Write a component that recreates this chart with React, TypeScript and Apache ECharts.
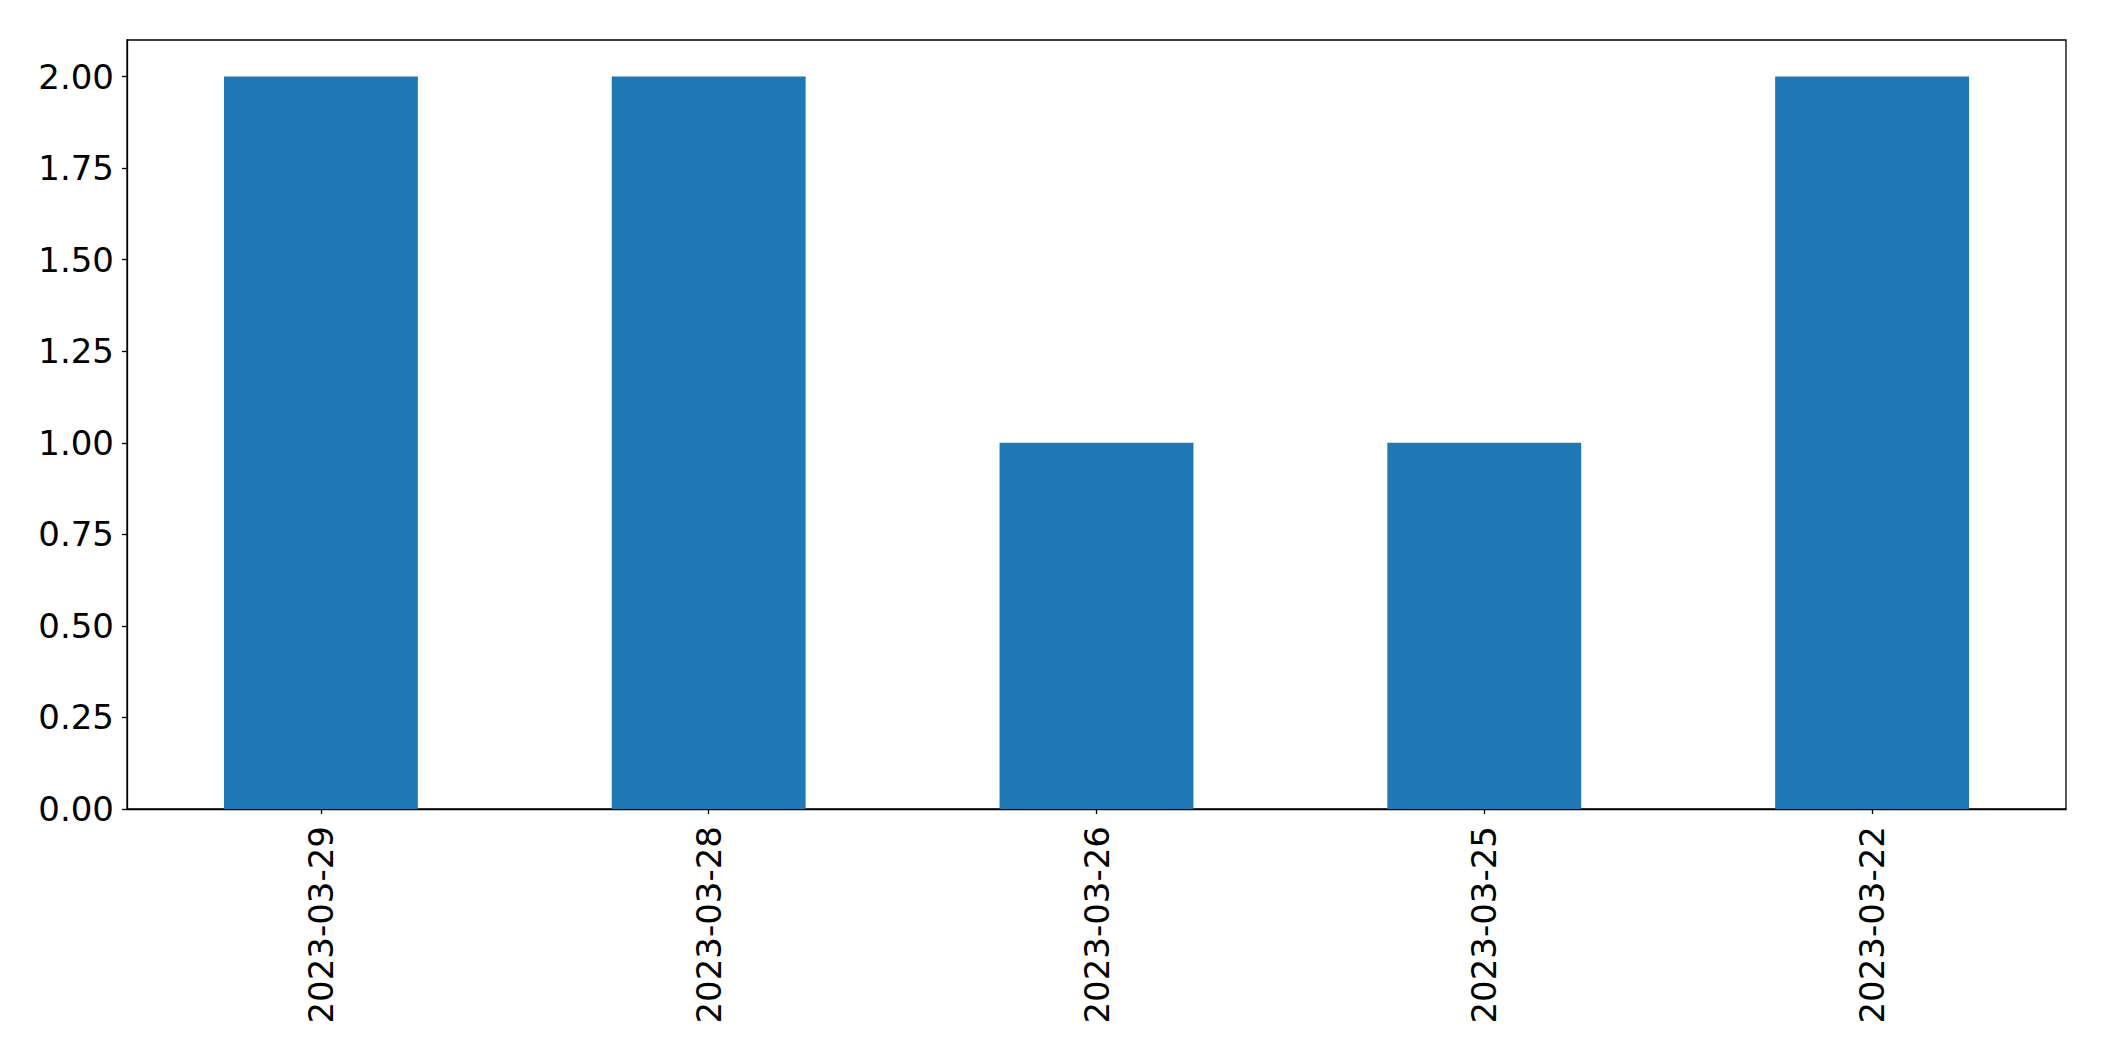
import React, { useEffect, useRef } from "react";
import * as echarts from "echarts";

const categories = ["2023-03-29", "2023-03-28", "2023-03-26", "2023-03-25", "2023-03-22"];
const counts = [2, 2, 1, 1, 2];
const yTicks = [0, 0.25, 0.5, 0.75, 1.0, 1.25, 1.5, 1.75, 2.0];

export default function App() {
  const ref = useRef<HTMLDivElement>(null);
  useEffect(() => {
    if (!ref.current) return;
    const chart = echarts.init(ref.current, undefined, { renderer: "svg" });
    const font = "DejaVu Sans";
    chart.setOption({
      animation: false,
      backgroundColor: "#ffffff",
      grid: {
        left: 127,
        top: 40,
        right: 38,
        bottom: 252,
        show: true,
        borderColor: "#000000",
        borderWidth: 1.3,
        backgroundColor: "transparent",
      },
      xAxis: {
        type: "category",
        data: categories,
        boundaryGap: true,
        axisLine: { show: true, lineStyle: { color: "#000000", width: 1.3 } },
        axisTick: { show: true, alignWithLabel: true, length: 5, lineStyle: { color: "#000000", width: 1.3 } },
        axisLabel: {
          rotate: 90,
          margin: 17,
          fontFamily: font,
          fontSize: 34,
          color: "#000000",
        },
        splitLine: { show: false },
      },
      yAxis: {
        type: "value",
        min: 0,
        max: 2.1,
        interval: 0.25,
        axisLine: { show: true, lineStyle: { color: "#000000", width: 1.3 } },
        axisTick: { show: true, length: 5, customValues: yTicks, lineStyle: { color: "#000000", width: 1.3 } },
        axisLabel: {
          customValues: yTicks,
          margin: 13,
          fontFamily: font,
          fontSize: 34,
          color: "#000000",
          formatter: (v: number) => v.toFixed(2),
        },
        splitLine: { show: false },
      },
      series: [
        {
          type: "bar",
          data: counts,
          barWidth: "50%",
          itemStyle: { color: "#1f77b4" },
        },
      ],
    });
    return () => chart.dispose();
  }, []);
  return (
    <div
      ref={ref}
      style={{ position: "fixed", left: 0, top: 0, width: 2104, height: 1061, background: "#ffffff" }}
    />
  );
}
